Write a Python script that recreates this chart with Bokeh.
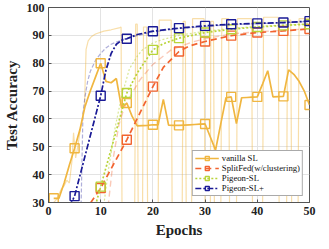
from bokeh.plotting import figure
from bokeh.models import FixedTicker, Legend, LegendItem, Range1d
from bokeh.embed import file_html
from bokeh.resources import INLINE

# ---------------- data ----------------
epochs = list(range(1, 51))
vanilla_sl = [31.5, 31.5, 37, 43.5, 49.5, 56, 64.5, 70, 75, 80,
              73.5, 73, 74.5, 64, 65.7, 61, 57.5, 57.6, 57.7, 57.9,
              57.9, 67, 57.8, 57.7, 57.7, 57.8, 57.9, 58, 58.1, 58.2,
              53.5, 48.8, 58.2, 67.6, 67.9, 58.3, 67.6, 67.7, 67.8, 67.9,
              72.5, 77.3, 67.9, 68, 68.1, 77.6, 76, 73.5, 70, 65]

splitfed_x = [7, 10, 15, 20, 22, 25, 27, 30, 35, 40, 45, 50]
splitfed = [27, 35.2, 52.5, 71.6, 78.5, 84.2, 86.2, 87.8, 89.9, 91.0, 91.6, 92.3]

pigeon_x = [9, 10, 15, 17, 20, 22, 25, 30, 35, 40, 45, 50]
pigeon = [29, 35.7, 69.3, 76.5, 84.8, 87, 89, 91, 92.2, 93, 93.6, 94]

pigeon_plus_x = [4, 5, 10, 11, 12, 13, 14, 15, 17, 20, 25, 30, 35, 40, 45, 50]
pigeon_plus = [28.5, 32.3, 68.3, 77.5, 83.5, 86.8, 88.2, 88.8, 90.3, 91.5,
               92.6, 93.4, 94.0, 94.3, 94.6, 95.1]

marker_epochs = [1, 5, 10, 15, 20, 25, 30, 35, 40, 45, 50]

# faint per-round curves
raw_vanilla = [(1, 30), (1.5, 31), (2, 33), (2.5, 35), (3, 36), (3.5, 38), (4, 37),
               (4.5, 45), (4.8, 55), (5.2, 46), (5.6, 50), (6, 55), (6.5, 60),
               (6.9, 65), (7.2, 85), (7.6, 88), (8.2, 89.5), (9, 90.5), (10.6, 91.5),
               (12, 92), (13.7, 92.8), (13.9, 93), (14.1, 22), (16.5, 22), (16.7, 94),
               (17.0, 94), (17.2, 22), (18.0, 22), (18.2, 93), (18.8, 93), (19.0, 22),
               (21.0, 22), (21.2, 95.5), (23.5, 95.5), (23.7, 22), (25.6, 22),
               (25.8, 95), (26.2, 95), (26.4, 22), (27.4, 22), (27.6, 96), (29.8, 96),
               (30.0, 22), (31.0, 22), (31.1, 95), (31.6, 95), (31.8, 22), (33.0, 22),
               (33.2, 96), (34.5, 96), (34.7, 22), (36.0, 22), (36.2, 96), (38.9, 96),
               (39.1, 22), (41.0, 22), (41.2, 96.5), (44.0, 96.5), (44.2, 22),
               (45.6, 22), (45.8, 95.5), (46.4, 95.5), (46.6, 22), (47.8, 22),
               (48.0, 96), (50, 96)]
raw_splitfed_x = [11.2, 12.5, 13.5, 14.5, 15.5, 17.5, 20, 23.5, 27.5, 30, 35, 40, 45, 50]
raw_splitfed = [25, 47, 58, 64, 67.6, 74, 79.6, 84.8, 87.6, 88.8, 90.5, 91.3, 91.8, 92.4]
raw_pigeon_x = [10.3, 11.5, 12.8, 14, 15.5, 17, 18, 20, 21.7, 25, 30, 35, 40, 45, 50]
raw_pigeon = [25, 42, 57.3, 68, 78, 82.5, 84.8, 87.3, 88.4, 90, 91.5, 92.5, 93.2, 93.7, 94.1]
raw_plus_x = [6.2, 6.6, 7, 7.5, 8, 9, 10, 11, 12, 13, 15, 20, 25, 30, 35, 40, 45, 50]
raw_plus = [25, 62, 68, 73.5, 77, 81, 83.5, 85.5, 86.8, 87.6, 89, 91.3, 92.4, 93.2,
            93.8, 94.2, 94.5, 95]

labels = ["vanilla SL", "SplitFed(w/clustering)", "Pigeon-SL", "Pigeon-SL+"]
colors = ["#F0B640", "#F26430", "#B9D43A", "#1A1A96"]
dashes = ["solid", "6 4", "2 2", "6 2 2 2"]

# ---------------- figure ----------------
FONT = "Liberation Serif"
p = figure(width=318, height=240, output_backend="svg", toolbar_location=None,
           x_range=Range1d(0, 50), y_range=Range1d(30, 100),
           min_border_left=0, min_border_right=9, min_border_top=7, min_border_bottom=0)
p.background_fill_color = "white"
p.outline_line_color = "#555555"
p.outline_line_width = 1

for ax in (p.xaxis[0], p.yaxis[0]):
    ax.major_label_text_font = FONT
    ax.major_label_text_font_style = "bold"
    ax.major_label_text_font_size = "12px"
    ax.major_label_text_color = "#222222"
    ax.axis_label_text_font = FONT
    ax.axis_label_text_font_style = "bold"
    ax.axis_label_text_font_size = "15px"
    ax.axis_label_text_color = "#222222"
    ax.axis_line_color = "#555555"
    ax.major_tick_line_color = "#555555"
    ax.major_tick_in = 3
    ax.major_tick_out = 0
    ax.minor_tick_line_color = None
    ax.major_label_standoff = 4
    ax.axis_label_standoff = 4

p.xaxis.ticker = FixedTicker(ticks=[0, 10, 20, 30, 40, 50])
p.yaxis.ticker = FixedTicker(ticks=[30, 40, 50, 60, 70, 80, 90, 100])
p.xaxis.axis_label = "Epochs"
p.yaxis.axis_label = "Test Accuracy"
p.grid.grid_line_color = "#e3e3e3"
p.grid.grid_line_width = 1

# faint curves
rv_x = [a for a, b in raw_vanilla]
rv_y = [b for a, b in raw_vanilla]
p.line(rv_x, rv_y, color=colors[0], line_width=1.2, line_alpha=0.45)
p.line(raw_plus_x, raw_plus, color=colors[3], line_width=1.2, line_alpha=0.35, line_dash="4 2")
p.line(raw_splitfed_x, raw_splitfed, color=colors[1], line_width=1.4, line_alpha=0.35, line_dash="6 4")
p.line(raw_pigeon_x, raw_pigeon, color=colors[2], line_width=1.2, line_alpha=0.55, line_dash="2 2")

series = [
    (epochs, vanilla_sl),
    (splitfed_x, splitfed),
    (pigeon_x, pigeon),
    (pigeon_plus_x, pigeon_plus),
]

items = []
for (xs, ys), lab, col, dash in zip(series, labels, colors, dashes):
    ln = p.line(xs, ys, color=col, line_width=1.7, line_dash=dash)
    mx = [x for x, y in zip(xs, ys) if x in marker_epochs]
    my = [y for x, y in zip(xs, ys) if x in marker_epochs]
    sc = p.scatter(mx, my, marker="square", size=9, line_color=col, line_width=1.4,
                   fill_alpha=0)
    items.append(LegendItem(label=lab, renderers=[ln, sc]))

legend = Legend(items=items, location="bottom_right")
legend.label_text_font = FONT
legend.label_text_font_size = "8.7px"
legend.label_text_color = "#111111"
legend.glyph_width = 24
legend.glyph_height = 10
legend.label_height = 10
legend.label_standoff = 3
legend.spacing = 0
legend.padding = 2
legend.margin = 6
legend.border_line_color = "#555555"
legend.border_line_width = 1
legend.background_fill_alpha = 1
p.add_layout(legend)

open("out.html", "w").write(file_html(p, INLINE))
